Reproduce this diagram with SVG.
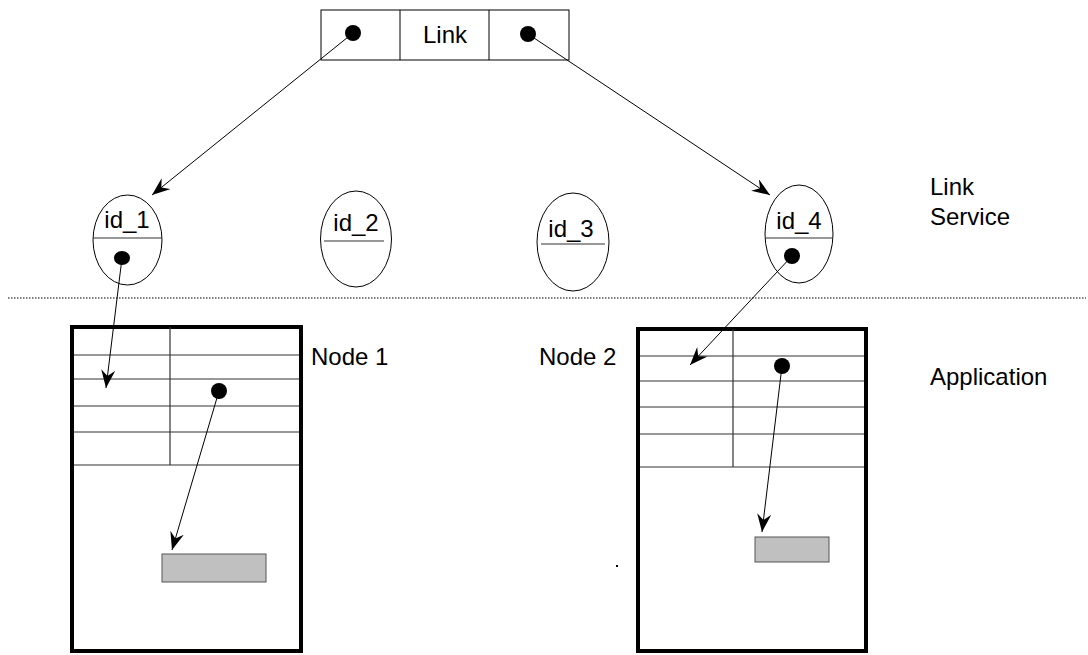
<svg xmlns="http://www.w3.org/2000/svg" width="1088" height="655" viewBox="0 0 1088 655">
<style>
.t{font-family:"Liberation Sans",Arial,sans-serif;font-size:24px;fill:#000}
.thin{stroke:#000;stroke-width:1;fill:none}
.grid{stroke:#333;stroke-width:1.2;fill:none}
.box{stroke:#000;stroke-width:4;fill:none}
.gray{fill:#c0c0c0;stroke:#555;stroke-width:1}
.conn{stroke:#000;stroke-width:1;fill:none;marker-end:url(#arr)}
</style>
<defs>
<marker id="arr" markerUnits="userSpaceOnUse" viewBox="0 0 18 14" refX="18" refY="7" markerWidth="18" markerHeight="14" orient="auto">
<path d="M0,0 L18,7 L0,14 L6,7 Z" fill="#000"/>
</marker>
</defs>
<rect width="1088" height="655" fill="#fff"/>
<g id="link">
<rect x="321" y="10" width="248" height="50" class="thin"/>
<line x1="400" y1="10" x2="400" y2="60" class="thin"/>
<line x1="489" y1="10" x2="489" y2="60" class="thin"/>
<text x="445" y="43" class="t" text-anchor="middle">Link</text>
<circle cx="353" cy="33" r="8"/>
<circle cx="528" cy="34" r="8"/>
</g>
<g id="id_1">
<ellipse cx="127.5" cy="240" rx="34.5" ry="45" class="thin"/>
<line x1="93" y1="238" x2="162" y2="238" class="grid"/>
<text x="127" y="228" class="t" text-anchor="middle">id_1</text>
<ellipse cx="122" cy="258" rx="8" ry="7"/>
</g>
<g id="id_2">
<ellipse cx="356" cy="239" rx="35.5" ry="48" class="thin"/>
<line x1="324" y1="241" x2="384" y2="241" class="grid"/>
<text x="356" y="231" class="t" text-anchor="middle">id_2</text>
</g>
<g id="id_3">
<ellipse cx="573" cy="242" rx="36" ry="49" class="thin"/>
<line x1="541" y1="244" x2="605" y2="244" class="grid"/>
<text x="571" y="237" class="t" text-anchor="middle">id_3</text>
</g>
<g id="id_4">
<ellipse cx="799" cy="234" rx="34" ry="49" class="thin"/>
<line x1="766" y1="238" x2="832" y2="238" class="grid"/>
<text x="799" y="229" class="t" text-anchor="middle">id_4</text>
<circle cx="792" cy="256" r="8"/>
</g>
<line x1="8" y1="298" x2="1086" y2="298" stroke="#000" stroke-width="1" stroke-dasharray="1.5,1.5"/>
<g id="node1">
<rect x="72" y="327" width="229" height="324" class="box"/>
<line x1="170" y1="327" x2="170" y2="465" class="grid"/>
<line x1="74" y1="355" x2="299" y2="355" class="grid"/>
<line x1="74" y1="379" x2="299" y2="379" class="grid"/>
<line x1="74" y1="406" x2="299" y2="406" class="grid"/>
<line x1="74" y1="432" x2="299" y2="432" class="grid"/>
<line x1="74" y1="465" x2="299" y2="465" class="grid"/>
<circle cx="219" cy="391" r="8"/>
<rect x="162" y="554" width="104" height="28" class="gray"/>
<text x="311" y="365" class="t">Node 1</text>
</g>
<g id="node2">
<rect x="638" y="329" width="228" height="322" class="box"/>
<line x1="733" y1="329" x2="733" y2="467" class="grid"/>
<line x1="640" y1="356" x2="864" y2="356" class="grid"/>
<line x1="640" y1="381" x2="864" y2="381" class="grid"/>
<line x1="640" y1="407" x2="864" y2="407" class="grid"/>
<line x1="640" y1="434" x2="864" y2="434" class="grid"/>
<line x1="640" y1="467" x2="864" y2="467" class="grid"/>
<circle cx="782" cy="366" r="8"/>
<rect x="755" y="537" width="74" height="25" class="gray"/>
<text x="539" y="365" class="t">Node 2</text>
</g>
<rect x="616" y="565" width="2" height="2" fill="#000"/>
<g id="labels">
<text x="930" y="195" class="t">Link</text>
<text x="930" y="225" class="t">Service</text>
<text x="930" y="385" class="t">Application</text>
</g>
<g id="connectors">
<line x1="353" y1="33" x2="152" y2="195" class="conn"/>
<line x1="528" y1="34" x2="770" y2="195" class="conn"/>
<line x1="122" y1="258" x2="106" y2="388" class="conn"/>
<line x1="792" y1="256" x2="690" y2="365" class="conn"/>
<line x1="219" y1="391" x2="172" y2="550" class="conn"/>
<line x1="782" y1="366" x2="762" y2="532" class="conn"/>
</g>
</svg>
